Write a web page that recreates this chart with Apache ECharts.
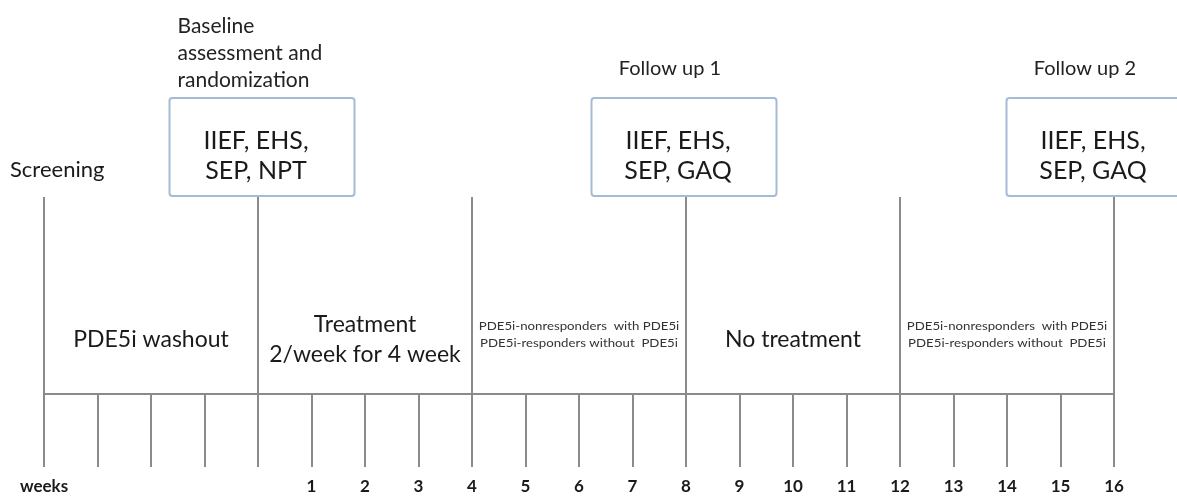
<!DOCTYPE html>
<html>
<head>
<meta charset="utf-8">
<script src="https://cdn.jsdelivr.net/npm/echarts@6/dist/echarts.min.js"></script>
<style>
html,body{margin:0;padding:0;background:#fff;}
#chart{width:1177px;height:496px;}
</style>
</head>
<body>
<div id="chart"></div>
<script>
// ---- data ----
const weekMin = -4;
const weekMax = 16;
const boundaryWeeks = [-4, 0, 4, 8, 12, 16];
const screeningWeek = -4;
const screeningLabel = 'Screening';
const eventWeeks = [0, 8, 16];
const eventTitles = ['Baseline\nassessment and\nrandomization', 'Follow up 1', 'Follow up 2'];
const eventMeasures = ['IIEF, EHS,\nSEP, NPT', 'IIEF, EHS,\nSEP, GAQ', 'IIEF, EHS,\nSEP, GAQ'];
const phaseStarts = [-4, 0, 4, 8, 12];
const phaseEnds = [0, 4, 8, 12, 16];
const phaseLabels = [
  'PDE5i washout',
  'Treatment\n2/week for 4 week',
  'PDE5i-nonresponders  with PDE5i\nPDE5i-responders without  PDE5i',
  'No treatment',
  'PDE5i-nonresponders  with PDE5i\nPDE5i-responders without  PDE5i'
];
const axisUnitLabel = 'weeks';

// ---- styles / layout (kept apart from the data) ----
const FONT = 'Lato, "Open Sans", sans-serif';
const TEXT = '#1a1a1a';
const LINE = '#8a8a8a';
const BOX = '#a3bbd3';
const phaseKind = ['big', 'big', 'small', 'big', 'small'];
const boxShift = [4, -2, -15];
const BOX_W = 185, BOX_H = 98, BOX_TOP = 98;

const chart = echarts.init(document.getElementById('chart'));

function boxItem(params, api) {
  const i = params.dataIndex;
  const cx = api.coord([eventWeeks[i], 0])[0] + boxShift[i];
  const left = cx - BOX_W / 2;
  const children = [
    { type: 'rect', shape: { x: left, y: BOX_TOP, width: BOX_W, height: BOX_H, r: 3 },
      style: { fill: '#fff', stroke: BOX, lineWidth: 2 } },
    { type: 'text', style: { text: eventMeasures[i], x: cx - 6, y: 156, align: 'center', verticalAlign: 'middle',
      font: '25px ' + FONT, lineHeight: 30, fill: TEXT } }
  ];
  if (i === 0) {
    children.push({ type: 'text', style: { text: eventTitles[i], x: left + 8, y: 53, align: 'left', verticalAlign: 'middle',
      font: '21px ' + FONT, lineHeight: 27, fill: '#222' } });
  } else {
    children.push({ type: 'text', style: { text: eventTitles[i], x: cx - 14, y: 69, align: 'center', verticalAlign: 'middle',
      font: '20px ' + FONT, fill: '#222' } });
  }
  return { type: 'group', children };
}

function phaseItem(params, api) {
  const i = params.dataIndex;
  const cx = api.coord([(phaseStarts[i] + phaseEnds[i]) / 2, 0])[0];
  const small = phaseKind[i] === 'small';
  if (small) {
    return { type: 'text', x: cx, y: 335, scaleX: 1.26, style: {
      text: phaseLabels[i], x: 0, y: 0, align: 'center', verticalAlign: 'middle',
      font: '10.5px ' + FONT, lineHeight: 17, fill: '#333' } };
  }
  return { type: 'text', style: {
    text: phaseLabels[i], x: cx, y: 340, align: 'center', verticalAlign: 'middle',
    font: '23px ' + FONT, lineHeight: 30, fill: TEXT } };
}

function screeningItem(params, api) {
  const x = api.coord([screeningWeek, 0])[0];
  return { type: 'text', style: { text: screeningLabel, x: x - 34, y: 170, align: 'left', verticalAlign: 'middle',
    font: '22px ' + FONT, fill: TEXT } };
}

chart.setOption({
  animation: false,
  grid: { left: 44, right: 63, top: 197, bottom: 102 },
  xAxis: {
    type: 'value', min: weekMin, max: weekMax, interval: 1,
    axisLine: { show: true, lineStyle: { color: LINE, width: 2 } },
    axisTick: { show: true, length: 73, lineStyle: { color: LINE, width: 2 } },
    splitLine: { show: false },
    axisLabel: {
      margin: 84, fontSize: 17, fontFamily: FONT, color: TEXT, fontWeight: 'bold',
      formatter: v => v === weekMin ? axisUnitLabel : (v > 0 ? String(v) : '')
    }
  },
  yAxis: { type: 'value', min: 0, max: 1, show: false },
  series: [
    {
      type: 'line', data: [], silent: true,
      markLine: {
        silent: true, symbol: 'none', label: { show: false },
        lineStyle: { color: LINE, width: 2, type: 'solid' },
        data: boundaryWeeks.map(w => ({ xAxis: w }))
      }
    },
    { type: 'custom', data: eventWeeks, renderItem: boxItem, clip: false, silent: true },
    { type: 'custom', data: phaseStarts, renderItem: phaseItem, clip: false, silent: true },
    { type: 'custom', data: [screeningWeek], renderItem: screeningItem, clip: false, silent: true }
  ]
});
</script>
</body>
</html>
